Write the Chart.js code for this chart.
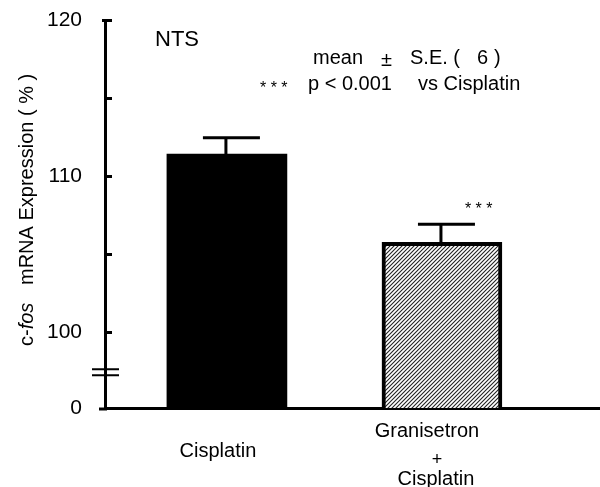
<!DOCTYPE html>
<html>
<head>
<meta charset="utf-8">
<script src="https://cdn.jsdelivr.net/npm/chart.js@4/dist/chart.umd.min.js"></script>
<style>
  html, body { margin: 0; padding: 0; background: #fff; }
  #wrap { width: 600px; height: 487px; }
</style>
</head>
<body>
<div id="wrap"><canvas id="cfosChart" width="600" height="487"></canvas></div>
<script>
// datos
const categories = ['Cisplatin', 'Granisetron + Cisplatin'];
const meanValues = [111.4, 105.75];
const seValues = [1.05, 1.15];
const yTickLabels = [0, 100, 110, 120];
const yMinorTicks = [105, 115];

const FONT = '"Liberation Sans", Arial, sans-serif';
// el eje esta cortado: 0..100 se comprime en un tramo corto bajo 100
const Y0 = 95.13;
function toAxis(v) {
    return v >= 100 ? v : Y0 + (v / 100) * (100 - Y0);
}

// trama rayada para la segunda barra
function hatchPattern() {
    const c = document.createElement('canvas');
    c.width = 4; c.height = 4;
    const g = c.getContext('2d');
    g.fillStyle = '#fff';
    g.fillRect(0, 0, 4, 4);
    g.strokeStyle = '#222';
    g.lineWidth = 1.1;
    g.beginPath();
    g.moveTo(-1, 5); g.lineTo(5, -1);
    g.moveTo(-1, 1); g.lineTo(1, -1);
    g.moveTo(3, 5); g.lineTo(5, 3);
    g.stroke();
    return g.createPattern(c, 'repeat');
}

const ctx = document.getElementById('cfosChart').getContext('2d');

const decor = {
    id: 'decor',
    afterDatasetsDraw(chart) {
        const c = chart.ctx;
        const xs = chart.scales.x;
        const ys = chart.scales.y;
        const meta = chart.getDatasetMeta(0);
        c.save();
        c.strokeStyle = '#000';
        c.fillStyle = '#000';

        // barras de error
        c.lineWidth = 3;
        meta.data.forEach((bar, i) => {
            const top = ys.getPixelForValue(toAxis(meanValues[i] + seValues[i]));
            c.beginPath();
            c.moveTo(bar.x - 1, bar.y);
            c.lineTo(bar.x - 1, top);
            c.moveTo(bar.x - 24, top);
            c.lineTo(bar.x + 33, top);
            c.stroke();
        });

        // marcas del eje y hacia dentro
        const ax = chart.chartArea.left;
        c.lineWidth = 3;
        yTickLabels.concat(yMinorTicks).filter(v => v >= 100).forEach(v => {
            const py = Math.round(ys.getPixelForValue(v)) + 0.5;
            c.beginPath();
            c.moveTo(v === 120 ? ax - 3 : ax, py);
            c.lineTo(ax + 7, py);
            c.stroke();
        });
        // prolongacion del eje x hacia la izquierda
        const by = chart.chartArea.bottom;
        c.beginPath();
        c.moveTo(ax - 6, by + 1);
        c.lineTo(ax + 2, by + 1);
        c.stroke();

        // corte del eje
        const bp = ys.getPixelForValue(Y0 + 0.47 * (100 - Y0));
        c.lineWidth = 2;
        c.beginPath();
        c.moveTo(ax - 13, bp - 3); c.lineTo(ax + 14, bp - 3);
        c.moveTo(ax - 13, bp + 3); c.lineTo(ax + 14, bp + 3);
        c.stroke();

        // textos
        c.textBaseline = 'alphabetic';
        c.textAlign = 'left';
        c.font = '22px ' + FONT;
        c.fillText('NTS', 155, 46);

        c.font = '20px ' + FONT;
        c.fillText('mean', 313, 64);
        c.fillText('\u00b1', 381, 66);
        c.fillText('S.E. (', 410, 64);
        c.fillText('6', 477, 64);
        c.fillText(')', 494, 64);
        c.fillText('p < 0.001', 308, 90);
        c.fillText('vs Cisplatin', 418, 90);

        c.font = '16px ' + FONT;
        c.fillText('* * *', 260, 93);
        const b2 = meta.data[1];
        c.fillText('* * *', b2.x + 23, ys.getPixelForValue(toAxis(meanValues[1] + seValues[1])) - 10);

        // etiquetas de categorias
        c.font = '20px ' + FONT;
        c.textAlign = 'center';
        const x0 = xs.getPixelForValue(0);
        const x1 = xs.getPixelForValue(1);
        c.fillText(categories[0], x0 - 9, 457);
        const parts = categories[1].split(' + ');
        c.fillText(parts[0], x1 - 15, 437);
        c.font = '18px ' + FONT;
        c.fillText('+', x1 - 5, 465);
        c.font = '20px ' + FONT;
        c.fillText(parts[1], x1 - 6, 485);

        // titulo del eje y con "fos" en cursiva
        c.save();
        c.translate(33, 346);
        c.rotate(-Math.PI / 2);
        c.textAlign = 'left';
        c.font = '20px ' + FONT;
        c.fillText('c-', 0, 0);
        let w = c.measureText('c-').width;
        c.font = 'italic 20px ' + FONT;
        c.fillText('fos', w, 0);
        c.font = '20px ' + FONT;
        c.fillText('mRNA Expression ( % )', 61, 0);
        c.restore();

        c.restore();
    }
};

new Chart(ctx, {
    type: 'bar',
    data: {
        datasets: [{
            data: meanValues.map((v, i) => ({ x: i, y: toAxis(v) })),
            backgroundColor: ['#000', hatchPattern()],
            borderColor: '#000',
            borderWidth: [0, 4],
            borderSkipped: false,
            barThickness: 120
        }]
    },
    options: {
        responsive: false,
        devicePixelRatio: 1,
        animation: false,
        layout: { padding: { top: 20, right: 0, left: 0, bottom: 0 } },
        plugins: {
            legend: { display: false },
            tooltip: { enabled: false }
        },
        scales: {
            x: {
                type: 'linear',
                offset: false,
                min: -0.567,
                max: 1.735,
                grid: { display: false },
                border: { display: true, color: '#000', width: 3 },
                ticks: { display: false },
                afterFit(scale) {
                    scale.height = 79;
                    scale.paddingLeft = 0;
                    scale.paddingRight = 0;
                }
            },
            y: {
                min: Y0,
                max: 120,
                grid: { display: false },
                border: { display: true, color: '#000', width: 3 },
                afterBuildTicks(scale) {
                    scale.ticks = yTickLabels.map(v => ({ value: toAxis(v) }));
                },
                ticks: {
                    color: '#000',
                    padding: 15,
                    font: { family: FONT, size: 21 },
                    callback: function (value) {
                        return Math.abs(value - Y0) < 0.01 ? '0' : String(value);
                    }
                },
                afterFit(scale) {
                    scale.width = 105;
                    scale.paddingTop = 0;
                    scale.paddingBottom = 0;
                }
            }
        }
    },
    plugins: [decor]
});
</script>
</body>
</html>
